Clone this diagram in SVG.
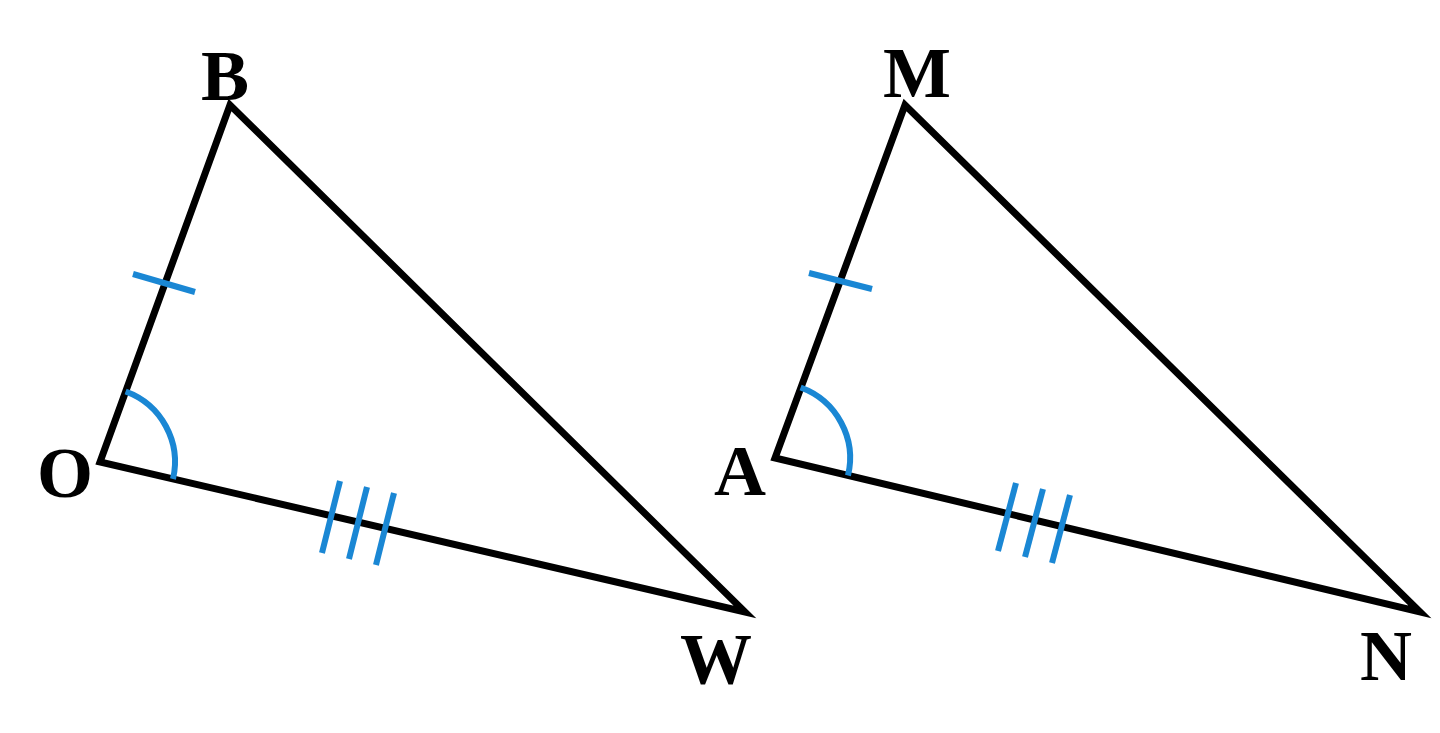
<svg xmlns="http://www.w3.org/2000/svg" width="1440" height="733" viewBox="0 0 1440 733">
<style>
.e{stroke:#000;stroke-width:7;fill:none;stroke-linejoin:miter}
.m{stroke:#1a87d4;stroke-width:6;fill:none}
.t{font-family:"Liberation Serif",serif;font-weight:bold;font-size:72px;text-anchor:middle;fill:#000}
</style>
<rect width="1440" height="733" fill="#fff"/>
<g id="connectors">
<path class="e" d="M230 105 L100 462 L745 612 Z"/>
<path class="e" d="M905 105 L775 458 L1420 612 Z"/>
</g>
<g id="marks">
<line class="m" x1="133" y1="274" x2="195" y2="292"/>
<path class="m" d="M125.6 391.5 A75 75 0 0 1 173 479"/>
<line class="m" x1="340" y1="481" x2="322" y2="553"/>
<line class="m" x1="367" y1="487" x2="349" y2="559"/>
<line class="m" x1="394" y1="493" x2="376" y2="565"/>
<line class="m" x1="809" y1="273" x2="872" y2="289"/>
<path class="m" d="M800.6 387.5 A75 75 0 0 1 848 475.5"/>
<line class="m" x1="1016" y1="483" x2="998" y2="551"/>
<line class="m" x1="1043" y1="489" x2="1025" y2="557"/>
<line class="m" x1="1070" y1="495" x2="1052" y2="563"/>
</g>
<g id="B"><text class="t" x="225" y="100">B</text></g>
<g id="O"><text class="t" x="65" y="497">O</text></g>
<g id="W"><text class="t" x="716" y="683">W</text></g>
<g id="M"><text class="t" x="917" y="97">M</text></g>
<g id="A"><text class="t" x="740" y="495">A</text></g>
<g id="N"><text class="t" x="1386" y="680">N</text></g>
</svg>
